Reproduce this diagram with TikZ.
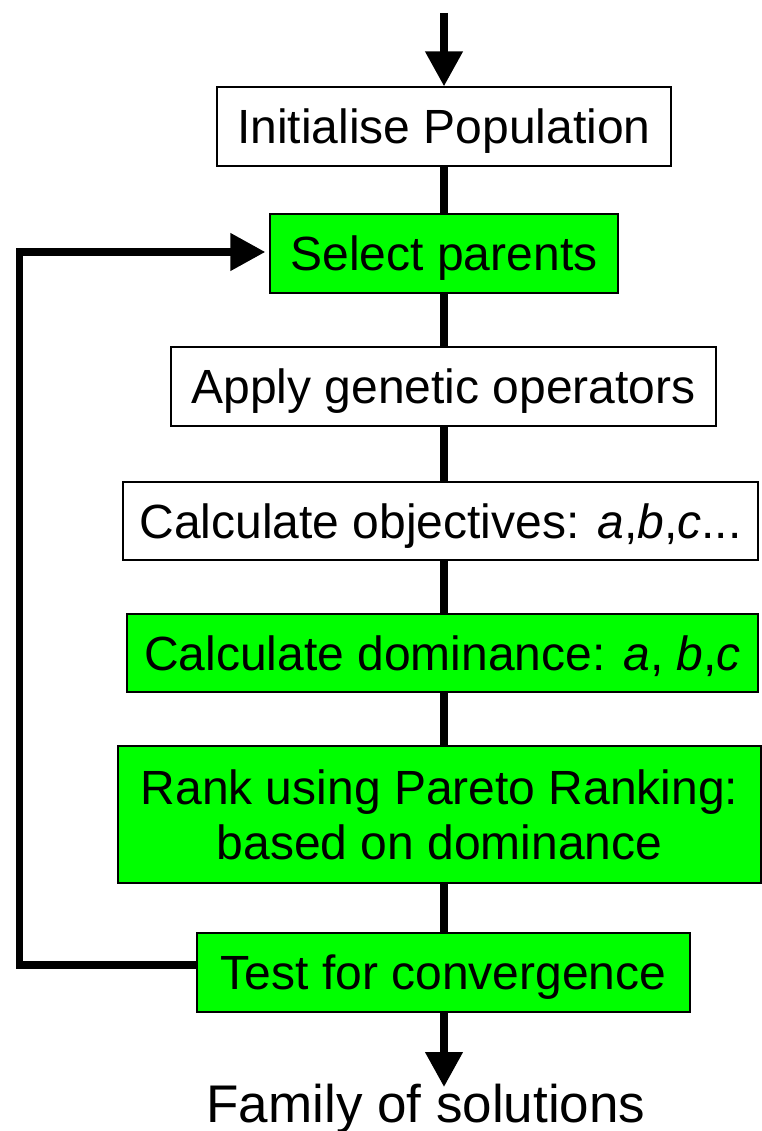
\documentclass[tikz,border=0pt]{standalone}
\usepackage{fontspec}
\setmainfont{Liberation Sans}
\usetikzlibrary{arrows.meta}
\definecolor{stepgreen}{RGB}{0,255,0}
\tikzset{
  boxbase/.style={draw=black, line width=1.3pt, inner sep=0pt,
    font=\fontsize{48}{55}\selectfont},
  flowbox/.style={boxbase, fill=white, text height=34.4pt, text depth=0pt},
  greenbox/.style={flowbox, fill=stepgreen},
  rankbox/.style={boxbase, fill=stepgreen, align=center},
  link/.style={line width=7.5pt},
  flowarrow/.style={link, -{Triangle[length=35pt,width=36pt]}},
}
\begin{document}
\begin{tikzpicture}[x=1pt, y=-1pt]
  \useasboundingbox (0,0) rectangle (761,1131);

  % process steps
  \node[flowbox, minimum width=454pt, minimum height=79pt] (init) at (444,126.5) {Initialise Population};
  \node[greenbox, minimum width=348pt, minimum height=79pt] (select) at (444,253.5) {Select parents};
  \node[flowbox, minimum width=545pt, minimum height=79pt] (apply) at (443.5,386.5) {Apply genetic operators};
  \node[flowbox, minimum width=635pt, minimum height=78pt] (objectives) at (440.5,521) {Calculate objectives: \textit{a},\textit{b},\textit{c}...};
  \node[greenbox, minimum width=631pt, minimum height=78pt] (dominance) at (442.5,653) {Calculate dominance: \textit{a}, \textit{b},\textit{c}};
  \node[rankbox, minimum width=643pt, minimum height=137pt] (rank) at (439.5,814.5) {Rank using Pareto Ranking:\\based on dominance};
  \node[greenbox, minimum width=493pt, minimum height=79pt] (test) at (443.5,972.5) {Test for convergence};

  % outcome
  \node[inner sep=0pt, anchor=base, font=\fontsize{53}{60}\selectfont] (result) at (426,1122) {Family of solutions};

  % entry and exit
  \coordinate (start) at (444,13);
  \coordinate (finish) at (444,1087);
  \draw[flowarrow] (start) -- (init.north);
  \draw[flowarrow] (test.south -| finish) -- (finish);

  % main chain
  \draw[link] (init.south) -- (init.south |- select.north);
  \draw[link] (select.south) -- (select.south |- apply.north);
  \draw[link] (apply.south -| select.south) -- (select.south |- objectives.north);
  \draw[link] (objectives.south -| select.south) -- (select.south |- dominance.north);
  \draw[link] (dominance.south -| select.south) -- (select.south |- rank.north);
  \draw[link] (rank.south -| select.south) -- (select.south |- test.north);

  % feedback loop
  \coordinate (loopbottom) at (19.5,965);
  \coordinate (looptop) at (19.5,252);
  \draw[flowarrow, line join=miter, shorten >=4pt] (test.west |- loopbottom) -- (loopbottom) -- (looptop) -- (select.west |- looptop);
\end{tikzpicture}
\end{document}
